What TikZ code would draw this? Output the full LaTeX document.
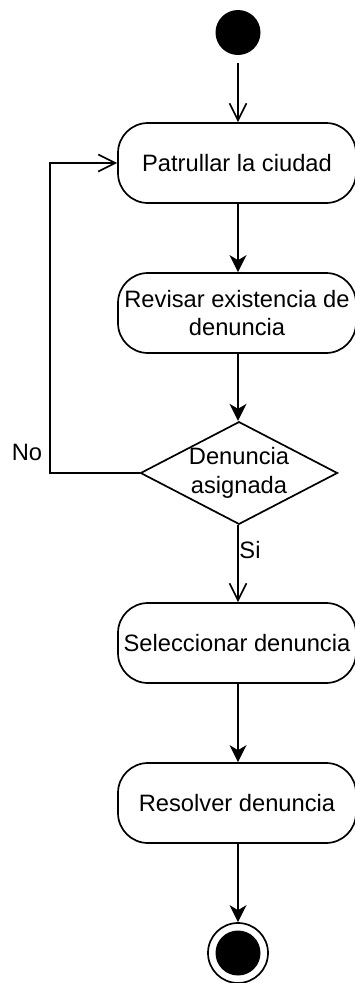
\documentclass[tikz,border=0pt]{standalone}
\usepackage{fontspec}
\setmainfont{Liberation Sans}
\usetikzlibrary{arrows.meta,shapes.geometric}
\tikzset{
  lw/.style={line width=1.7pt},
  activity/.style={draw,lw,rounded corners=30pt,minimum width=238pt,minimum height=80pt,align=center,inner sep=0pt,
    font=\fontsize{23.7}{28.4}\selectfont},
  decision/.style={draw,lw,diamond,aspect=1.92,minimum width=192pt,minimum height=100pt,inner sep=0pt,align=center,
    font=\fontsize{23.7}{28.4}\selectfont},
  lbl/.style={font=\fontsize{23.7}{28.4}\selectfont,inner sep=0pt},
  openarr/.style={lw,-{Straight Barb[length=17pt,width=17pt,line width=1.7pt]}},
  fillarr/.style={lw,-{Stealth[length=17pt,width=17pt,inset=5pt]}},
}
\begin{document}
\begin{tikzpicture}[x=1pt,y=-1pt]
\useasboundingbox (0,0) rectangle (354,983);
\node[circle,fill=black,minimum size=45pt,inner sep=0pt] (start) at (238,32.5) {};
\node[activity] (patrol) at (237,163) {Patrullar la ciudad};
\node[activity] (check) at (237,313) {Revisar existencia de\\denuncia};
\node[decision] (dec) at (239,473) {Denuncia\\asignada};
\node[activity] (select) at (237,643) {Seleccionar denuncia};
\node[activity] (resolve) at (237,803) {Resolver denuncia};
\node[circle,draw,lw,minimum size=60pt,inner sep=0pt] (end) at (238,953) {};
\node[circle,fill=black,minimum size=45pt,inner sep=0pt] (endin) at (end.center) {};
\coordinate (corner) at (50,473);
\node[lbl] (no) at (27,452) {No};
\node[lbl] (si) at (250,550) {Si};
\draw[openarr,shorten <=8pt] (start.south) -- (start.south |- patrol.north);
\draw[fillarr] (start.south |- patrol.south) -- (start.south |- check.north);
\draw[fillarr] (start.south |- check.south) -- (start.south |- dec.north);
\draw[openarr] (dec.west) -- (corner) |- (patrol.west);
\draw[openarr] (start.south |- dec.south) -- (start.south |- select.north);
\draw[fillarr] (start.south |- select.south) -- (start.south |- resolve.north);
\draw[fillarr] (start.south |- resolve.south) -- (end.north);
\end{tikzpicture}
\end{document}
